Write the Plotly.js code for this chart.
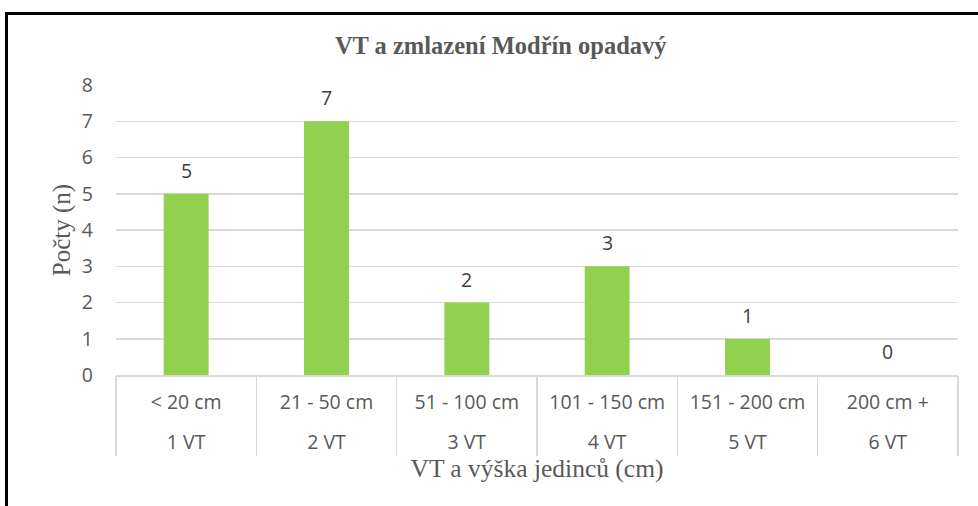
<!DOCTYPE html>
<html>
<head>
<meta charset="utf-8">
<script src="https://cdn.plot.ly/plotly-3.0.1.min.js"></script>
<style>
html,body{margin:0;padding:0;background:#fff;}
#frame{position:absolute;left:5px;top:12px;width:990px;height:510px;border-left:3px solid #000;border-top:3px solid #000;box-sizing:border-box;pointer-events:none;z-index:5;}
#chart{position:absolute;left:0;top:0;width:978px;height:506px;}
</style>
</head>
<body>
<div id="chart"></div>
<div id="frame"></div>
<script>
const heightClasses = ["< 20 cm", "21 - 50 cm", "51 - 100 cm", "101 - 150 cm", "151 - 200 cm", "200 cm +"];
const vtClasses = ["1 VT", "2 VT", "3 VT", "4 VT", "5 VT", "6 VT"];
const counts = [5, 7, 2, 3, 1, 0];

const tickFontFamily = '"Open Sans", Lato, sans-serif';
const serifFamily = '"Liberation Serif", "Times New Roman", serif';
const idx = counts.map((_, i) => i);
const bounds = idx.map(i => i - 0.5).concat([counts.length - 0.5]);

const trace = {
  type: 'bar',
  x: heightClasses,
  y: counts,
  marker: {color: '#92D050'},
  hoverinfo: 'skip'
};

// invisible helper traces so the overlay axes (second label row, dividers) are drawn
const helper2 = {type: 'scatter', mode: 'markers', x: idx, y: counts, xaxis: 'x2', yaxis: 'y',
  marker: {opacity: 0, size: 1}, hoverinfo: 'skip', showlegend: false};
const helper3 = {type: 'scatter', mode: 'markers', x: idx, y: counts, xaxis: 'x3', yaxis: 'y',
  marker: {opacity: 0, size: 1}, hoverinfo: 'skip', showlegend: false};

const annotations = counts.map((v, i) => ({
  x: heightClasses[i], y: v, xref: 'x', yref: 'y',
  text: String(v), showarrow: false,
  xanchor: 'center', yanchor: 'bottom', yshift: 8,
  font: {family: tickFontFamily, size: 19.5, color: '#404040'}
}));

const layout = {
  width: 978, height: 506,
  margin: {l: 116, r: 20, t: 85, b: 131},
  paper_bgcolor: '#fff', plot_bgcolor: '#fff',
  bargap: 0.68,
  showlegend: false,
  annotations: annotations,
  title: {
    text: '<b>VT a zmlazení Modřín opadavý</b>',
    font: {family: serifFamily, size: 24.5, color: '#595959'},
    x: 0.512, xanchor: 'center', y: 0.91, yanchor: 'middle'
  },
  xaxis: {
    type: 'category',
    range: [-0.5, counts.length - 0.5],
    showgrid: false,
    showline: true, linecolor: '#d9d9d9', linewidth: 1.5,
    ticks: '',
    ticklabelstandoff: 9,
    tickfont: {family: tickFontFamily, size: 19.5, color: '#595959'}
  },
  xaxis2: {
    overlaying: 'x', anchor: 'y', side: 'bottom',
    type: 'linear', range: [-0.5, counts.length - 0.5],
    tickmode: 'array', tickvals: idx, ticktext: vtClasses,
    showgrid: false, zeroline: false, showline: false, ticks: '',
    ticklabelstandoff: 53,
    tickfont: {family: tickFontFamily, size: 19.5, color: '#595959'},
    title: {text: 'VT a výška jedinců (cm)', font: {family: serifFamily, size: 25.5, color: '#595959'}, standoff: 5}
  },
  xaxis3: {
    overlaying: 'x', anchor: 'y', side: 'bottom',
    type: 'linear', range: [-0.5, counts.length - 0.5],
    tickmode: 'array', tickvals: bounds,
    showgrid: false, zeroline: false, showline: false, showticklabels: false,
    ticks: 'outside', ticklen: 80, tickwidth: 1.5, tickcolor: '#d9d9d9'
  },
  yaxis: {
    range: [0, 8], dtick: 1,
    showgrid: true, gridcolor: '#d9d9d9', gridwidth: 1.5,
    zeroline: false, showline: false, ticks: '',
    tickfont: {family: tickFontFamily, size: 19.5, color: '#595959'},
    ticklabelstandoff: 22,
    title: {text: 'Počty (n)', font: {family: serifFamily, size: 25, color: '#595959'}, standoff: 4}
  }
};

Plotly.newPlot('chart', [trace, helper2, helper3], layout, {displayModeBar: false, staticPlot: true});
</script>
</body>
</html>
